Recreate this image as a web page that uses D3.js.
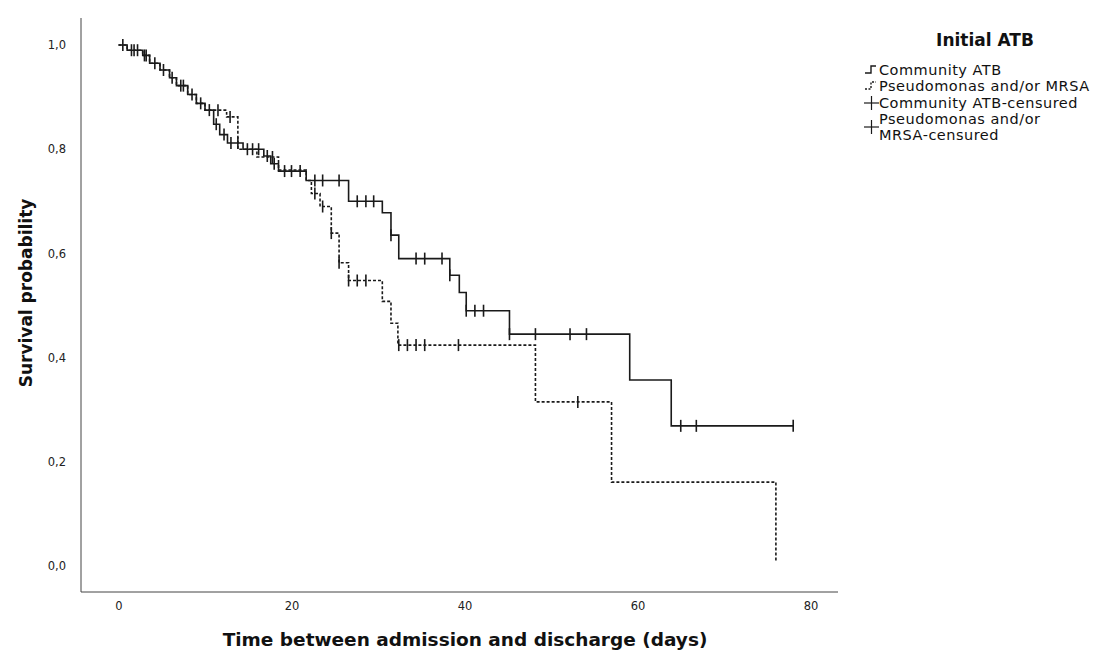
<!DOCTYPE html>
<html lang="en">
<head>
    <meta charset="UTF-8">
    <title>Kaplan-Meier: Initial ATB</title>
    <script src="https://d3js.org/d3.v7.min.js"></script>
    <style>
        body { margin: 0; background: #fff; }
        svg { display: block; font-family: "DejaVu Sans", sans-serif; }
    </style>
</head>
<body>
    <svg width="1109" height="655"></svg>
    <script>
        // axis ticks
        const xTicks = [0, 20, 40, 60, 80];
        const yTicks = [0, 0.2, 0.4, 0.6, 0.8, 1.0];

        // Community ATB: step times (days) and survival after each step
        const commTimes = [0, 1.0, 2.8, 3.6, 4.8, 5.9, 6.7, 8.0, 9.0, 10.0, 11.0, 11.7, 12.6, 14.4, 16.8, 17.6, 18.5,
            21.7, 26.6, 30.5, 31.5, 32.4, 38.3, 39.4, 40.2, 45.2, 59.1, 63.9];
        const commSurv = [1.0, 0.99, 0.98, 0.965, 0.952, 0.937, 0.922, 0.905, 0.888, 0.875, 0.848, 0.828, 0.812, 0.80, 0.787, 0.772, 0.758,
            0.74, 0.70, 0.678, 0.635, 0.59, 0.558, 0.525, 0.49, 0.445, 0.357, 0.269];
        const commEnd = 78.0;
        const commCensor = [1.8, 2.2, 3.2, 4.2, 5.2, 6.2, 7.2, 8.5, 9.5, 10.5, 11.3, 12.2, 13.0, 13.8, 14.9, 15.5, 16.2,
            17.2, 18.0, 19.2, 20.0, 21.0, 22.7, 23.6, 25.5, 27.6, 28.6, 29.5, 31.5, 34.4, 35.4, 37.4, 38.3,
            40.2, 41.2, 42.2, 45.2, 48.2, 52.2, 54.1, 65.0, 66.8, 78.0];

        // Pseudomonas and/or MRSA
        const pseuTimes = [0, 1.0, 2.8, 3.6, 4.8, 5.9, 6.7, 8.0, 9.0, 10.0, 12.5, 13.8, 16.0, 18.5, 21.7, 22.3, 23.3,
            24.6, 25.5, 26.6, 30.5, 31.5, 32.3, 48.2, 57.0, 76.0];
        const pseuSurv = [1.0, 0.99, 0.98, 0.965, 0.952, 0.937, 0.922, 0.905, 0.888, 0.875, 0.862, 0.80, 0.785, 0.76, 0.74, 0.715, 0.69,
            0.639, 0.582, 0.548, 0.508, 0.466, 0.424, 0.315, 0.161, 0.008];
        const pseuEnd = 76.0;
        const pseuCensor = [0.5, 1.5, 3.0, 7.5, 11.5, 12.9, 17.8, 22.7, 23.6, 24.6, 25.5, 26.6, 27.6, 28.6,
            32.4, 33.4, 34.4, 35.4, 39.3, 53.1];

        const legendLabels = ["Community ATB", "Pseudomonas and/or MRSA", "Community ATB-censured",
            ["Pseudomonas and/or", "MRSA-censured"]];

        const svg = d3.select("svg");
        const ink = "#1a1a1a";

        const x = d3.scaleLinear().domain([0, 80]).range([118.5, 810.5]);
        const y = d3.scaleLinear().domain([0, 1]).range([566, 45]);

        // frame lines (left + bottom)
        svg.append("line").attr("x1", 81).attr("x2", 81).attr("y1", 18).attr("y2", 592)
            .attr("stroke", "#444").attr("stroke-width", 1);
        svg.append("line").attr("x1", 81).attr("x2", 838).attr("y1", 592).attr("y2", 592)
            .attr("stroke", "#444").attr("stroke-width", 1);

        const fmt = d => d3.format(".1f")(d).replace(".", ",");

        const xAxis = svg.append("g").attr("transform", "translate(0,592)")
            .call(d3.axisBottom(x).tickValues(xTicks).tickSize(0).tickPadding(10));
        xAxis.select(".domain").remove();
        xAxis.selectAll("text").attr("font-size", 11.5).attr("fill", "#222").attr("font-family", "DejaVu Sans");

        const yAxis = svg.append("g").attr("transform", "translate(81,0)")
            .call(d3.axisLeft(y).tickValues(yTicks).tickSize(0).tickPadding(15).tickFormat(fmt));
        yAxis.select(".domain").remove();
        yAxis.selectAll("text").attr("font-size", 11.5).attr("fill", "#222").attr("font-family", "DejaVu Sans");

        // step path builder
        function stepPath(times, surv, end) {
            const pts = times.map((t, i) => [t, surv[i]]);
            pts.push([end, surv[surv.length - 1]]);
            return d3.line().x(d => x(d[0])).y(d => y(d[1])).curve(d3.curveStepAfter)(pts);
        }
        function survAt(times, surv, t) {
            let s = surv[0];
            times.forEach((tt, i) => { if (tt <= t) s = surv[i]; });
            return s;
        }

        svg.append("path").attr("d", stepPath(pseuTimes, pseuSurv, pseuEnd))
            .attr("fill", "none").attr("stroke", ink).attr("stroke-width", 1.6)
            .attr("stroke-dasharray", "3,2");
        svg.append("path").attr("d", stepPath(commTimes, commSurv, commEnd))
            .attr("fill", "none").attr("stroke", ink).attr("stroke-width", 1.6);

        function censorTicks(cls, ts, times, surv) {
            svg.selectAll("." + cls).data(ts).enter().append("line")
                .attr("class", cls)
                .attr("x1", d => x(d)).attr("x2", d => x(d))
                .attr("y1", d => y(survAt(times, surv, d)) - 6)
                .attr("y2", d => y(survAt(times, surv, d)) + 6)
                .attr("stroke", ink).attr("stroke-width", 1.6);
        }
        censorTicks("cc", commCensor, commTimes, commSurv);
        censorTicks("pc", pseuCensor, pseuTimes, pseuSurv);

        // axis titles
        svg.append("text").attr("x", 465).attr("y", 646).attr("text-anchor", "middle")
            .attr("font-size", 18.5).attr("font-weight", "bold").attr("fill", "#111")
            .text("Time between admission and discharge (days)");
        svg.append("text").attr("transform", "translate(32,293) rotate(-90)").attr("text-anchor", "middle")
            .attr("font-size", 17).attr("font-weight", "bold").attr("fill", "#111")
            .text("Survival probability");

        // legend
        const lg = svg.append("g");
        lg.append("text").attr("x", 985).attr("y", 46).attr("text-anchor", "middle")
            .attr("font-size", 17).attr("font-weight", "bold").attr("fill", "#111").text("Initial ATB");
        const rowY = [70, 86, 103, 127];
        lg.append("path").attr("d", `M865,${rowY[0] + 3}H871V${rowY[0] - 4}H876`)
            .attr("fill", "none").attr("stroke", ink).attr("stroke-width", 1.4);
        lg.append("path").attr("d", `M865,${rowY[1] + 3}H871V${rowY[1] - 4}H876`)
            .attr("fill", "none").attr("stroke", ink).attr("stroke-width", 1.4).attr("stroke-dasharray", "2,1.5");
        [2, 3].forEach(i => {
            lg.append("line").attr("x1", 864).attr("x2", 879).attr("y1", rowY[i]).attr("y2", rowY[i])
                .attr("stroke", ink).attr("stroke-width", 1.2);
            lg.append("line").attr("x1", 871.5).attr("x2", 871.5).attr("y1", rowY[i] - 7).attr("y2", rowY[i] + 7)
                .attr("stroke", ink).attr("stroke-width", 1.2);
        });
        legendLabels.forEach((lab, i) => {
            const t = lg.append("text").attr("x", 879).attr("y", rowY[i] + 5)
                .attr("font-size", 14.5).attr("letter-spacing", 0.5).attr("fill", "#111");
            if (Array.isArray(lab)) {
                t.attr("y", rowY[i] - 3);
                lab.forEach((l, j) => t.append("tspan").attr("x", 879).attr("dy", j ? 16 : 0).text(l));
            } else {
                t.text(lab);
            }
        });
    </script>
</body>
</html>
